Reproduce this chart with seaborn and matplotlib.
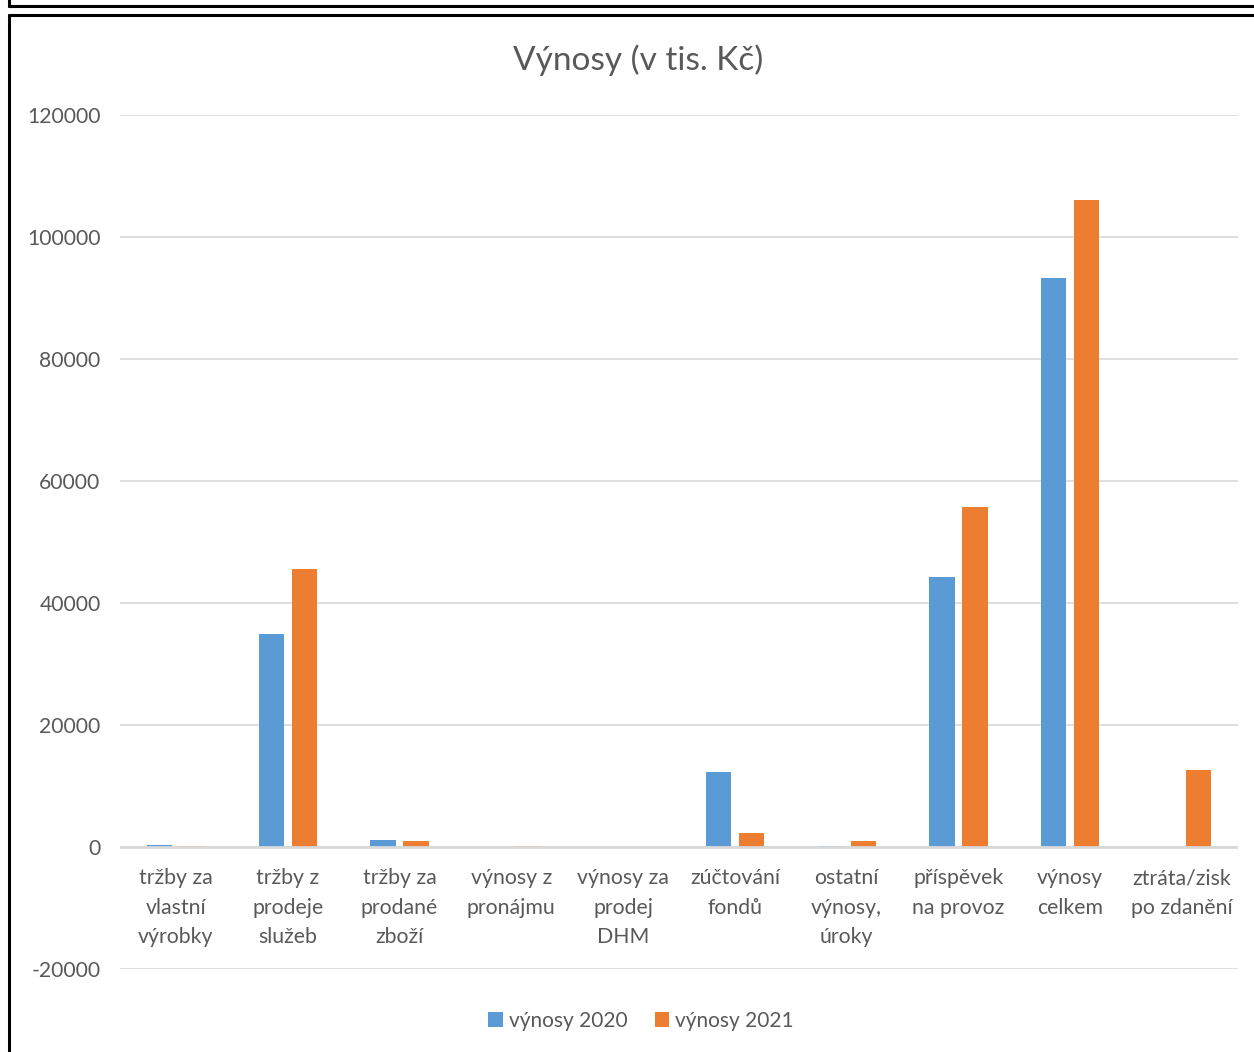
import matplotlib
matplotlib.use("Agg")
import matplotlib.pyplot as plt
from matplotlib.lines import Line2D
from matplotlib.patches import Patch
import seaborn as sns
import pandas as pd

categories = [
    "tržby za\nvlastní\nvýrobky",
    "tržby z\nprodeje\nslužeb",
    "tržby za\nprodané\nzboží",
    "výnosy z\npronájmu",
    "výnosy za\nprodej\nDHM",
    "zúčtování\nfondů",
    "ostatní\nvýnosy,\núroky",
    "příspěvek\nna provoz",
    "výnosy\ncelkem",
    "ztráta/zisk\npo zdanění",
]
vynosy_2020 = [350, 34900, 1150, 0, 0, 12300, 200, 44300, 93300, 0]
vynosy_2021 = [200, 45600, 1000, 100, 0, 2350, 1000, 55700, 106100, 12600]
series_names = ["výnosy 2020", "výnosy 2021"]
y_ticks = [-20000, 0, 20000, 40000, 60000, 80000, 100000, 120000]

df = pd.DataFrame({
    "kategorie": categories * 2,
    "hodnota": vynosy_2020 + vynosy_2021,
    "rada": [series_names[0]] * len(categories) + [series_names[1]] * len(categories),
})

sns.set_theme(style="white")
plt.rcParams["font.family"] = ["Lato", "DejaVu Sans"]

colors = ["#5B9BD5", "#ED7D31"]
text_color = "#595959"

fig = plt.figure(figsize=(12.54, 10.52), dpi=100)
ax = fig.add_axes([120 / 1254, 1 - 969 / 1052, 1118 / 1254, (969 - 115) / 1052])

sns.barplot(data=df, x="kategorie", y="hodnota", hue="rada", palette=colors,
            width=0.59, gap=0.24, ax=ax, legend=False, saturation=1,
            edgecolor="none")

ax.set_ylim(-20000, 120000)
ax.set_yticks(y_ticks)
ax.set_yticklabels([str(v) for v in y_ticks], fontsize=15.2, color=text_color)
ax.set_xlim(-0.5, len(categories) - 0.5)
ax.set_xlabel("")
ax.set_ylabel("")
ax.grid(axis="y", color="#d9d9d9", linewidth=1.2)
ax.set_axisbelow(True)
ax.axhline(0, color="#d9d9d9", linewidth=2, zorder=1)
for s in ax.spines.values():
    s.set_visible(False)
ax.tick_params(axis="y", length=0, pad=14)
ax.tick_params(axis="x", length=0, pad=10)
ax.xaxis.set_ticks_position("none")

# place category labels just below zero line
ax.set_xticks(range(len(categories)))
ax.set_xticklabels([])
for i, c in enumerate(categories):
    ax.text(i, -3500, c, ha="center", va="top", fontsize=15.3, color=text_color,
            linespacing=1.58)

fig.text(638 / 1254, 1 - 60 / 1052, "Výnosy (v tis. Kč)", ha="center", va="center",
         fontsize=24, color=text_color)

handles = [Patch(facecolor=colors[0], edgecolor="none"),
           Patch(facecolor=colors[1], edgecolor="none")]
fig.legend(handles, series_names, loc="center", bbox_to_anchor=(641 / 1254, 1 - 1021 / 1052),
           ncol=2, frameon=False, fontsize=15, handlelength=0.7, handleheight=0.7,
           handletextpad=0.3, columnspacing=1.3, labelcolor=text_color)

# frames
def fl(x, y, lw=2.2):
    fig.add_artist(Line2D([v / 1254 for v in x], [1 - v / 1052 for v in y],
                          color="black", linewidth=lw, transform=fig.transFigure))

fl([9, 1254], [6, 6])
fl([9, 9], [0, 6])
fl([9, 1254], [15, 15])
fl([9, 9], [15, 1052])

fig.savefig("out.png", dpi=100)
